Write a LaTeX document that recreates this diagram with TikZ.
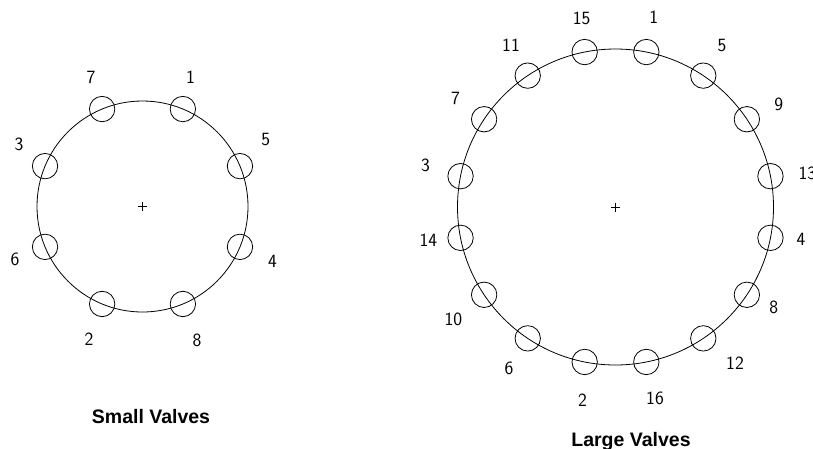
\documentclass[tikz,border=0pt]{standalone}
\usepackage{fontspec}
\newfontfamily\titlefont{Liberation Sans}
\begin{document}
\begin{tikzpicture}[x=1pt,y=-1pt,
  ring/.style={circle, draw, inner sep=0pt, line width=0.8pt},
  valve/.style={circle, draw, inner sep=0pt, minimum size=25.4pt, line width=0.8pt},
  num/.style={font=\sffamily\fontsize{18.7}{20}\selectfont, inner sep=0pt},
  ttl/.style={font=\titlefont\bfseries\fontsize{19.5}{22}\selectfont, inner sep=0pt, anchor=base},
  cross/.style={line width=0.7pt}]
\useasboundingbox (0,0) rectangle (813,448);

% ---------- small valves ----------
\coordinate (sc) at (142.5,206.5);
\node[ring, minimum size=211pt] (sring) at (sc) {};
\foreach \id/\a in {5/22.5,1/67.5,7/112.5,3/157.5,6/202.5,2/247.5,8/292.5,4/337.5}
  \node[valve] (s\id) at ({142.5+105.5*cos(\a)},{206.5-105.5*sin(\a)}) {};
\draw[cross] (sc) +(-4.5,0) -- +(4.5,0) (sc) +(0,-4.5) -- +(0,4.5);

\node[num] (sl7) at (91,77.5) {7};
\node[num] (sl1) at (190.5,77.5) {1};
\node[num] (sl5) at (265.7,139.5) {5};
\node[num] (sl3) at (19,144.5) {3};
\node[num] (sl6) at (15,259) {6};
\node[num] (sl4) at (272.5,261.7) {4};
\node[num] (sl2) at (89,339) {2};
\node[num] (sl8) at (197,340.5) {8};

\node[ttl] (stitle) at (151,423) {Small Valves};

% ---------- large valves ----------
\coordinate (lc) at (615.5,207);
\node[ring, minimum size=316pt] (lring) at (lc) {};
\foreach \id/\a in {13/11.25,9/33.75,5/56.25,1/78.75,15/101.25,11/123.75,7/146.25,3/168.75,
                    14/191.25,10/213.75,6/236.25,2/258.75,16/281.25,12/303.75,8/326.25,4/348.75}
  \node[valve] (l\id) at ({615.5+158*cos(\a)},{207-158*sin(\a)}) {};
\draw[cross] (lc) +(-4.5,0) -- +(4.5,0) (lc) +(0,-4.5) -- +(0,4.5);

\node[num] (ll15) at (581.7,18) {15};
\node[num] (ll1) at (653.7,17.5) {1};
\node[num] (ll11) at (511,45.3) {11};
\node[num] (ll5) at (722,45.8) {5};
\node[num] (ll7) at (455.5,98.3) {7};
\node[num] (ll9) at (778.7,104.5) {9};
\node[num] (ll3) at (425.5,165.5) {3};
\node[num, anchor=west] (ll13) at (798.3,173.5) {13};
\node[num] (ll14) at (428.3,240) {14};
\node[num] (ll4) at (801,239) {4};
\node[num] (ll10) at (453.3,319.7) {10};
\node[num] (ll8) at (773.8,307.5) {8};
\node[num] (ll6) at (509,368.3) {6};
\node[num] (ll12) at (735,363.7) {12};
\node[num] (ll2) at (582.5,400.3) {2};
\node[num] (ll16) at (655,398.8) {16};

\node[ttl] (ltitle) at (631,446) {Large Valves};
\end{tikzpicture}
\end{document}
